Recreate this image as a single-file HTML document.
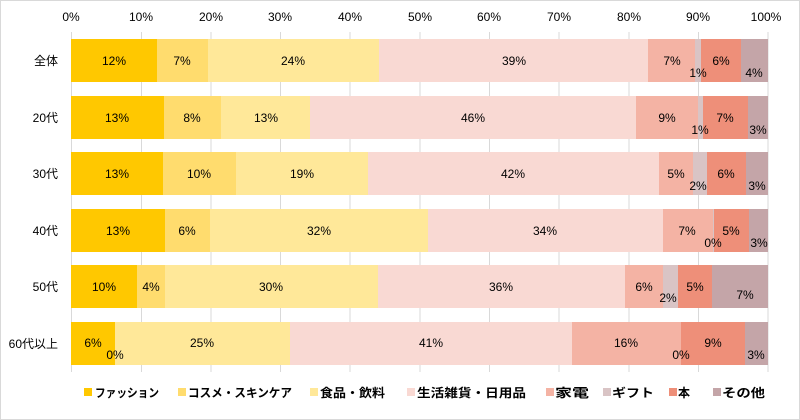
<!DOCTYPE html>
<html><head><meta charset="utf-8"><style>
body{margin:0;background:#fff}
svg{display:block;font-family:"Liberation Sans","Noto Sans CJK JP",sans-serif}
</style></head><body>
<svg width="800" height="420" xmlns="http://www.w3.org/2000/svg">
<rect x="0.5" y="0.5" width="799" height="419" fill="#fff" stroke="#d9d9d9"/>
<g stroke="#d9d9d9" stroke-width="1">
<line x1="71.5" y1="32" x2="71.5" y2="372"/><line x1="141.5" y1="32" x2="141.5" y2="372"/><line x1="211" y1="32" x2="211" y2="372"/><line x1="280.5" y1="32" x2="280.5" y2="372"/><line x1="350" y1="32" x2="350" y2="372"/><line x1="420" y1="32" x2="420" y2="372"/><line x1="489.5" y1="32" x2="489.5" y2="372"/><line x1="559" y1="32" x2="559" y2="372"/><line x1="629" y1="32" x2="629" y2="372"/><line x1="698.5" y1="32" x2="698.5" y2="372"/><line x1="768" y1="32" x2="768" y2="372"/>
</g>
<g font-size="12" fill="#000" text-anchor="middle">
<text x="71" y="21">0%</text><text x="141" y="21">10%</text><text x="211" y="21">20%</text><text x="280" y="21">30%</text><text x="350" y="21">40%</text><text x="420" y="21">50%</text><text x="489" y="21">60%</text><text x="559" y="21">70%</text><text x="629" y="21">80%</text><text x="698" y="21">90%</text><text x="766" y="21">100%</text>
</g>
<g font-size="12" text-anchor="end">
<text x="58" y="65">全体</text><text x="58" y="122">20代</text><text x="58" y="178">30代</text><text x="58" y="235">40代</text><text x="58" y="291">50代</text><text x="58" y="348">60代以上</text>
</g>
<g>
<rect x="71" y="39" width="86" height="43" fill="#FFC800"/><rect x="157" y="39" width="51" height="43" fill="#FFDC6E"/><rect x="208" y="39" width="171" height="43" fill="#FFE899"/><rect x="379" y="39" width="269" height="43" fill="#F9D9D3"/><rect x="648" y="39" width="47" height="43" fill="#F4B3A4"/><rect x="695" y="39" width="6" height="43" fill="#D9C4C5"/><rect x="701" y="39" width="40" height="43" fill="#EE8F79"/><rect x="741" y="39" width="27" height="43" fill="#C4A5A8"/>

<rect x="71" y="96" width="93" height="43" fill="#FFC800"/><rect x="164" y="96" width="57" height="43" fill="#FFDC6E"/><rect x="221" y="96" width="89" height="43" fill="#FFE899"/><rect x="310" y="96" width="326" height="43" fill="#F9D9D3"/><rect x="636" y="96" width="62" height="43" fill="#F4B3A4"/><rect x="698" y="96" width="5" height="43" fill="#D9C4C5"/><rect x="703" y="96" width="45" height="43" fill="#EE8F79"/><rect x="748" y="96" width="20" height="43" fill="#C4A5A8"/>

<rect x="71" y="152" width="92" height="43" fill="#FFC800"/><rect x="163" y="152" width="73" height="43" fill="#FFDC6E"/><rect x="236" y="152" width="132" height="43" fill="#FFE899"/><rect x="368" y="152" width="291" height="43" fill="#F9D9D3"/><rect x="659" y="152" width="34" height="43" fill="#F4B3A4"/><rect x="693" y="152" width="14" height="43" fill="#D9C4C5"/><rect x="707" y="152" width="39" height="43" fill="#EE8F79"/><rect x="746" y="152" width="22" height="43" fill="#C4A5A8"/>

<rect x="71" y="209" width="94" height="43" fill="#FFC800"/><rect x="165" y="209" width="45" height="43" fill="#FFDC6E"/><rect x="210" y="209" width="218" height="43" fill="#FFE899"/><rect x="428" y="209" width="235" height="43" fill="#F9D9D3"/><rect x="663" y="209" width="50" height="43" fill="#F4B3A4"/><rect x="713" y="209" width="1" height="43" fill="#D9C4C5"/><rect x="714" y="209" width="35" height="43" fill="#EE8F79"/><rect x="749" y="209" width="19" height="43" fill="#C4A5A8"/>

<rect x="71" y="265" width="66" height="43" fill="#FFC800"/><rect x="137" y="265" width="28" height="43" fill="#FFDC6E"/><rect x="165" y="265" width="213" height="43" fill="#FFE899"/><rect x="378" y="265" width="247" height="43" fill="#F9D9D3"/><rect x="625" y="265" width="38" height="43" fill="#F4B3A4"/><rect x="663" y="265" width="15" height="43" fill="#D9C4C5"/><rect x="678" y="265" width="34" height="43" fill="#EE8F79"/><rect x="712" y="265" width="56" height="43" fill="#C4A5A8"/>

<rect x="71" y="322" width="44" height="43" fill="#FFC800"/><rect x="115" y="322" width="175" height="43" fill="#FFE899"/><rect x="290" y="322" width="282" height="43" fill="#F9D9D3"/><rect x="572" y="322" width="109" height="43" fill="#F4B3A4"/><rect x="681" y="322" width="64" height="43" fill="#EE8F79"/><rect x="745" y="322" width="23" height="43" fill="#C4A5A8"/>
</g>
<g font-size="12" text-anchor="middle">
<text x="114" y="65">12%</text><text x="182" y="65">7%</text><text x="293" y="65">24%</text><text x="514" y="65">39%</text><text x="672" y="65">7%</text><text x="698" y="77">1%</text><text x="721" y="65">6%</text><text x="754" y="77">4%</text>
<text x="117" y="122">13%</text><text x="192" y="122">8%</text><text x="266" y="122">13%</text><text x="473" y="122">46%</text><text x="667" y="122">9%</text><text x="700" y="134">1%</text><text x="725" y="122">7%</text><text x="758" y="134">3%</text>
<text x="117" y="178">13%</text><text x="199" y="178">10%</text><text x="302" y="178">19%</text><text x="513" y="178">42%</text><text x="676" y="178">5%</text><text x="698" y="190">2%</text><text x="726" y="178">6%</text><text x="757" y="190">3%</text>
<text x="118" y="235">13%</text><text x="187" y="235">6%</text><text x="319" y="235">32%</text><text x="545" y="235">34%</text><text x="687" y="235">7%</text><text x="713" y="247">0%</text><text x="731" y="235">5%</text><text x="759" y="247">3%</text>
<text x="104" y="291">10%</text><text x="151" y="291">4%</text><text x="271" y="291">30%</text><text x="501" y="291">36%</text><text x="644" y="291">6%</text><text x="668" y="302">2%</text><text x="695" y="291">5%</text><text x="745" y="299">7%</text>
<text x="93" y="347">6%</text><text x="115" y="359">0%</text><text x="202" y="347">25%</text><text x="431" y="347">41%</text><text x="626" y="347">16%</text><text x="681" y="359">0%</text><text x="713" y="347">9%</text><text x="756" y="359">3%</text>
</g>
<g font-size="12" font-weight="bold">
<rect x="84" y="388" width="8" height="8" fill="#FFC800"/><text x="95" y="397" textLength="64" lengthAdjust="spacingAndGlyphs">ファッション</text>
<rect x="178" y="388" width="8" height="8" fill="#FFDC6E"/><text x="188" y="397" textLength="104" lengthAdjust="spacingAndGlyphs">コスメ・スキンケア</text>
<rect x="310" y="388" width="8" height="8" fill="#FFE899"/><text x="320" y="397" textLength="65" lengthAdjust="spacingAndGlyphs">食品・飲料</text>
<rect x="407" y="388" width="8" height="8" fill="#F9D9D3"/><text x="417" y="397" textLength="109" lengthAdjust="spacingAndGlyphs">生活雑貨・日用品</text>
<rect x="546" y="388" width="8" height="8" fill="#F4B3A4"/><text x="555" y="397" textLength="34" lengthAdjust="spacingAndGlyphs">家電</text>
<rect x="603" y="388" width="8" height="8" fill="#D9C4C5"/><text x="612" y="397" textLength="42" lengthAdjust="spacingAndGlyphs">ギフト</text>
<rect x="669" y="388" width="8" height="8" fill="#EE8F79"/><text x="678" y="397">本</text>
<rect x="713" y="388" width="8" height="8" fill="#C4A5A8"/><text x="722" y="397" textLength="43" lengthAdjust="spacingAndGlyphs">その他</text>
</g>
</svg>
</body></html>
